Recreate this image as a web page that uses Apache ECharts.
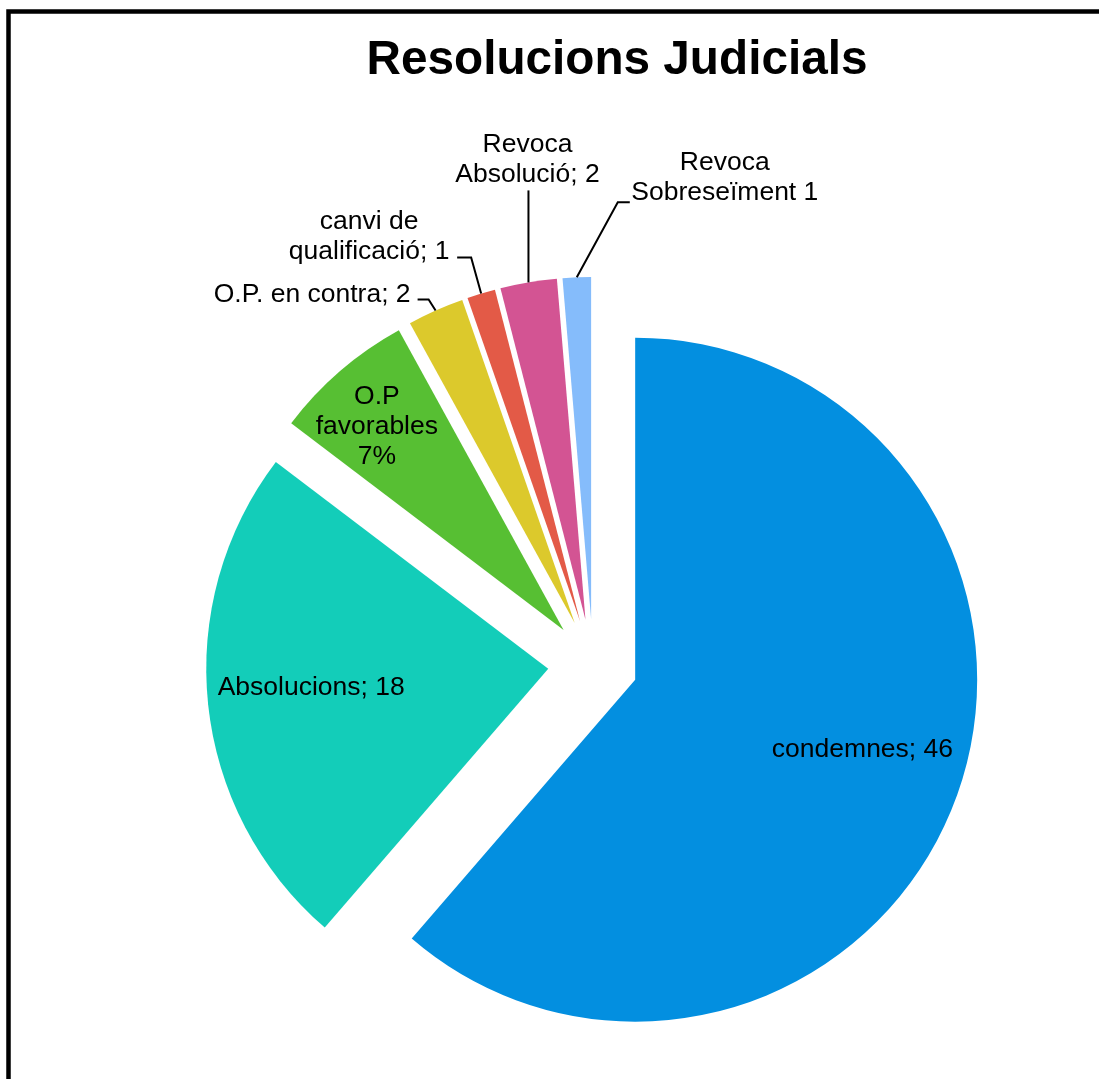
<!DOCTYPE html>
<html><head><meta charset="utf-8">
<script src="https://cdn.jsdelivr.net/npm/echarts@6/dist/echarts.min.js"></script>
<style>html,body{margin:0;padding:0;background:#fff;}#c{width:1099px;height:1079px;}</style>
</head><body><div id="c"></div>
<script>
const categories = ['condemnes', 'Absolucions', 'O.P favorables', 'O.P. en contra', 'canvi de qualificació', 'Revoca Absolució', 'Revoca Sobreseïment'];
const values = [46, 18, 5, 2, 1, 2, 1];
const labelTexts = ['condemnes; 46', 'Absolucions; 18', 'O.P\nfavorables\n7%', 'O.P. en contra; 2', 'canvi de\nqualificació; 1', 'Revoca\nAbsolució; 2', 'Revoca\nSobreseïment 1'];
const colors = ['#038FE0', '#13CDB9', '#57BF33', '#DCC92C', '#E35A47', '#D35493', '#85BCFB'];

// label placement tweaks (Excel style manual placement)
const insideShift = {0: [67, 10], 1: [-67, 1], 2: [-75, -74]};
const leader = {
  3: {bend: [-7, -11], tail: -11, text: [-7, -5], align: 'right'},
  4: {bend: [-10, -36], tail: -14, text: [-88, -21], align: 'center'},
  5: {bend: [0, -92], tail: 0, text: [-1, -31], align: 'center'},
  6: {bend: [41, -75], tail: 12, text: [95, -25], align: 'center'}
};

const FONT = "'Liberation Sans', Arial, Helvetica, sans-serif";
const EXPLODE = 45;
const CENTER = [593, 664];
const RADIUS = 342;

// direction of each slice's bisector, derived from the data (clockwise from 12 o'clock)
const total = values.reduce((a, b) => a + b, 0);
let acc = 0;
const midDir = values.map(v => {
  const mid = (acc + v / 2) / total * 2 * Math.PI;
  acc += v;
  return [Math.sin(mid), -Math.cos(mid)];
});

const chart = echarts.init(document.getElementById('c'), null, {renderer: 'canvas'});

const sliceData = categories.map((n, i) => ({
  name: n, value: values[i], selected: true, itemStyle: {color: colors[i]}
}));

const labelData = categories.map((n, i) => {
  const isInside = insideShift[i] !== undefined;
  return {
    name: n,
    value: values[i],
    label: {position: isInside ? 'inside' : 'outside', formatter: labelTexts[i]},
    labelLine: {show: !isInside}
  };
});

chart.setOption({
  animation: false,
  backgroundColor: '#ffffff',
  title: {
    text: 'Resolucions Judicials',
    left: 612,
    top: 32,
    textAlign: 'center',
    textStyle: {fontFamily: FONT, fontSize: 47.7, fontWeight: 'bold', color: '#000'}
  },
  graphic: [{
    type: 'rect',
    shape: {x: 8.5, y: 11.5, width: 1300, height: 1300},
    style: {fill: 'none', stroke: '#000', lineWidth: 4.5},
    silent: true,
    z: 100
  }],
  series: [{
    type: 'pie',
    center: CENTER,
    radius: RADIUS,
    startAngle: 90,
    clockwise: true,
    selectedMode: 'multiple',
    selectedOffset: EXPLODE,
    itemStyle: {borderWidth: 0},
    select: {itemStyle: {borderWidth: 0}},
    emphasis: {disabled: true},
    label: {show: false},
    labelLine: {show: false},
    data: sliceData
  }, {
    type: 'pie',
    center: CENTER,
    radius: RADIUS,
    startAngle: 90,
    clockwise: true,
    selectedMode: false,
    silent: true,
    avoidLabelOverlap: false,
    z: 5,
    itemStyle: {color: 'rgba(0,0,0,0)', borderWidth: 0},
    emphasis: {disabled: true},
    label: {
      show: true,
      fontFamily: FONT,
      fontSize: 26.5,
      lineHeight: 30,
      color: '#000',
      align: 'center'
    },
    labelLine: {
      show: true,
      length: 20,
      length2: 10,
      lineStyle: {color: '#000', width: 2}
    },
    labelLayout: function (p) {
      const i = p.dataIndex;
      const d = midDir[i];
      if (insideShift[i]) {
        const s = insideShift[i];
        const rr = EXPLODE + RADIUS / 2;
        return {
          x: CENTER[0] + d[0] * rr + s[0],
          y: CENTER[1] + d[1] * rr + s[1],
          align: 'center',
          verticalAlign: 'middle'
        };
      }
      const c = leader[i];
      if (!c || !p.labelLinePoints) return {};
      const a0 = p.labelLinePoints[0];
      const a = [a0[0] + d[0] * EXPLODE, a0[1] + d[1] * EXPLODE];
      const b = [a[0] + c.bend[0], a[1] + c.bend[1]];
      const e = [b[0] + c.tail, b[1]];
      return {
        x: e[0] + c.text[0],
        y: e[1] + c.text[1],
        align: c.align,
        verticalAlign: 'middle',
        labelLinePoints: [a, b, e]
      };
    },
    data: labelData
  }]
});
</script>
</body></html>
